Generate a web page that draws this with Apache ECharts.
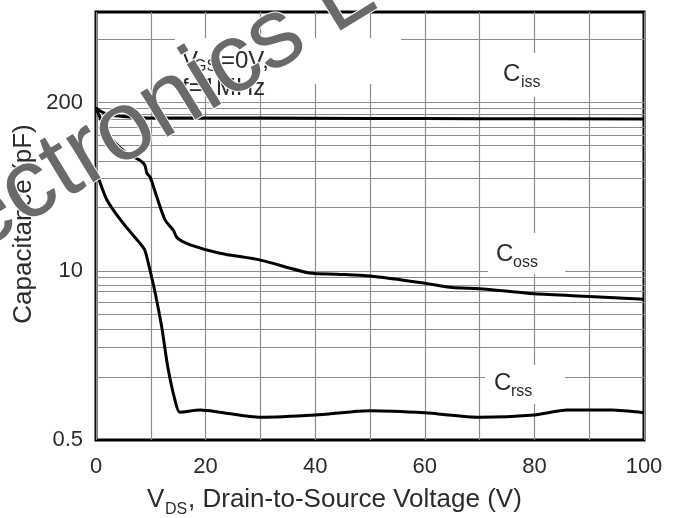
<!DOCTYPE html>
<html><head><meta charset="utf-8">
<script src="https://cdn.jsdelivr.net/npm/echarts@6/dist/echarts.min.js"></script>
<style>html,body{margin:0;padding:0;background:#fff}#c{width:678px;height:518px}</style>
</head><body><div id="c"></div>
<script>
// V_DS (V), capacitance (pF)
const cissData = [[0,182],[1,170],[2.5,161],[5,156],[8,153],[15,152],[30,152],[50,151],[70,150.5],[100,149.5]];
const cossData = [[0,182],[2,117],[3.5,98],[4.9,86],[6.2,79],[8,72],[8.9,66],[9.3,57],[9.9,53],[11.1,37.4],[12.6,24.9],[14.1,20.8],[14.8,18.1],[17.2,16],[22.6,13.8],[30,12.2],[39,9.7],[44,9.5],[50,9.2],[60,8.1],[65,7.5],[70,7.35],[80,6.7],[90,6.4],[100,6.1]];
const crssData = [[0,60],[2,35.5],[4.9,23.6],[8,16.5],[8.9,14.6],[9.85,10.2],[10.8,6.8],[12,3.7],[13.1,1.83],[14.4,1.02],[15.3,0.82],[19,0.85],[22.6,0.82],[30,0.75],[40,0.78],[50,0.84],[60,0.81],[70,0.75],[80,0.78],[86,0.85],[94,0.85],[100,0.81]];
const xTickLabels = [0,20,40,60,80,100];
const yTickLabels = [0.5,10,200];
const yGridValues = [620,202,182,163,150,130,112,93,71,52,31,10,9.0,7.8,7.0,5.8,4.7,3.6,2.6,1.53];

const FONT = '"Liberation Sans", Arial, sans-serif';
const TXT = '#2b2b2b';
const chart = echarts.init(document.getElementById('c'));

function txt(x, y, text, size, extra) {
  return {
    type: 'text', x: x, y: y, z: 30,
    style: Object.assign({text: text, fontSize: size, fontFamily: FONT, fill: TXT,
      align: 'left', verticalAlign: 'middle'}, extra || {})
  };
}
function box(x, y, w, h) {
  return {type: 'rect', z: 20, shape: {x: x, y: y, width: w, height: h}, style: {fill: '#fff'}};
}

const curveStyle = {color: '#000', width: 3};
function curve(name, data) {
  return {type: 'line', name: name, data: data, showSymbol: false, smooth: 0.25,
    lineStyle: curveStyle, itemStyle: {color: '#000'}, z: 5, silent: true};
}

chart.setOption({
  animation: false,
  backgroundColor: '#fff',
  grid: {left: 96, right: 34, top: 12, bottom: 78, show: true, borderColor: '#000', borderWidth: 3, backgroundColor: 'transparent'},
  xAxis: {
    type: 'value', min: 0, max: 100, interval: 10,
    axisLine: {show: false}, axisTick: {show: false},
    splitLine: {show: true, lineStyle: {color: '#8c8c8c', width: 1.2}},
    axisLabel: {fontSize: 22, fontFamily: FONT, color: TXT, margin: 16,
      formatter: v => (xTickLabels.indexOf(v) >= 0 ? String(v) : '')}
  },
  yAxis: {
    type: 'log', logBase: 10, min: 0.5, max: 1000,
    axisLine: {show: false}, axisTick: {show: false}, splitLine: {show: false},
    axisLabel: {customValues: yTickLabels, fontSize: 22, fontFamily: FONT, color: TXT, margin: 13,
      formatter: v => { const t = yTickLabels.find(k => Math.abs(k - v) / k < 1e-6); return t === undefined ? '' : String(t); }}
  },
  series: [
    {type: 'line', data: [], z: 1, silent: true,
      markLine: {silent: true, symbol: 'none', animation: false,
        lineStyle: {color: '#8c8c8c', width: 1.2, type: 'solid'},
        label: {show: false}, emphasis: {disabled: true},
        data: yGridValues.map(v => ({yAxis: v}))}},
    curve('Ciss', cissData),
    curve('Coss', cossData),
    curve('Crss', crssData)
  ],
  graphic: [
    box(175, 38, 226, 46),
    box(490, 53, 90, 44),
    box(488, 233, 77, 41),
    box(485, 365, 80, 39),
    txt(182, 61, 'V', 24),
    txt(194, 67, 'GS', 16),
    txt(221, 61, '=0V,', 24),
    txt(182, 88, 'f=1MHz', 24),
    txt(503, 74, 'C', 24),
    txt(521, 83, 'iss', 16),
    txt(496, 254, 'C', 24),
    txt(513, 263, 'oss', 16),
    txt(494, 383, 'C', 24),
    txt(511, 392, 'rss', 16),
    txt(147, 500, 'V', 26),
    txt(165, 510, 'DS', 16),
    txt(188, 500, ', Drain-to-Source Voltage (V)', 26),
    {type: 'text', x: 24, y: 224, rotation: Math.PI / 2, z: 30,
      style: {text: 'Capacitance (pF)', fontSize: 26, fontFamily: FONT, fill: TXT, align: 'center', verticalAlign: 'middle'}},
    {type: 'text', x: -38, y: 231, rotation: 0.55, z: 40,
      style: {text: 'ectronics L', fontSize: 98, fontFamily: FONT, fill: '#6a6a6a', stroke: '#fff', lineWidth: 2,
        align: 'left', verticalAlign: 'middle'}}
  ]
});
</script>
</body></html>
